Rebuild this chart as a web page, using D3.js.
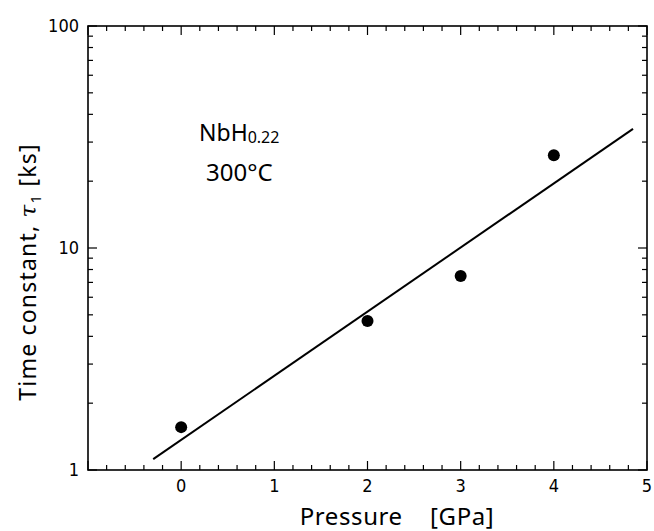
<!DOCTYPE html>
<html><head><meta charset="utf-8">
<script src="https://cdn.jsdelivr.net/npm/d3@7"></script>
<style>body{margin:0;background:#fff}</style>
</head><body>
<svg id="c" width="654" height="531"></svg>
<script>
const pressure = [0, 2, 3, 4];
const tau = [1.56, 4.69, 7.48, 26.2];
const fitX = [-0.3, 4.85];
const fitY = [1.12, 34.4];
const xTicks = [0, 1, 2, 3, 4, 5];
const yTicks = [1, 10, 100];

const svg = d3.select("#c");
const L = 88, R = 647, T = 26, B = 470;
const x = d3.scaleLinear().domain([-1, 5]).range([L, R]);
const y = d3.scaleLog().domain([1, 100]).range([B, T]);
const tickFont = "'Liberation Sans Narrow','DejaVu Sans Condensed',Arial,sans-serif";
const labFont = "'Noto Sans','DejaVu Sans',sans-serif";

const xMinor = d3.range(-1, 5.001, 0.2).map(v => +v.toFixed(1));
const yMinor = [];
for (let d = 1; d < 100; d *= 10) for (let k = 2; k <= 9; k++) yMinor.push(d * k);

const g = svg.append("g").attr("stroke", "#000").attr("fill", "none");
g.append("rect").attr("x", L).attr("y", T).attr("width", R - L).attr("height", B - T).attr("stroke-width", 1.6);

const isMajor = v => Math.abs(v - Math.round(v)) < 1e-6;
xMinor.forEach(v => {
  const len = isMajor(v) ? 9 : 5;
  g.append("line").attr("x1", x(v)).attr("x2", x(v)).attr("y1", B).attr("y2", B - len).attr("stroke-width", 1.2);
  g.append("line").attr("x1", x(v)).attr("x2", x(v)).attr("y1", T).attr("y2", T + len).attr("stroke-width", 1.2);
});
yMinor.forEach(v => {
  g.append("line").attr("x1", L).attr("x2", L + 5).attr("y1", y(v)).attr("y2", y(v)).attr("stroke-width", 1.2);
  g.append("line").attr("x1", R).attr("x2", R - 5).attr("y1", y(v)).attr("y2", y(v)).attr("stroke-width", 1.2);
});
yTicks.forEach(v => {
  g.append("line").attr("x1", L).attr("x2", L + 9).attr("y1", y(v)).attr("y2", y(v)).attr("stroke-width", 1.2);
  g.append("line").attr("x1", R).attr("x2", R - 9).attr("y1", y(v)).attr("y2", y(v)).attr("stroke-width", 1.2);
});

svg.selectAll(".xt").data(xTicks).enter().append("text")
  .attr("x", d => x(d)).attr("y", B + 22).attr("text-anchor", "middle")
  .attr("font-family", tickFont).attr("font-size", 18).text(d => d);
svg.selectAll(".yt").data(yTicks).enter().append("text")
  .attr("x", L - 9).attr("y", d => y(d) + 6).attr("text-anchor", "end")
  .attr("font-family", tickFont).attr("font-size", 18).text(d => d);

svg.append("line").attr("x1", x(fitX[0])).attr("y1", y(fitY[0])).attr("x2", x(fitX[1])).attr("y2", y(fitY[1]))
  .attr("stroke", "#000").attr("stroke-width", 2);

svg.selectAll(".pt").data(pressure).enter().append("circle")
  .attr("cx", d => x(d)).attr("cy", (d, i) => y(tau[i])).attr("r", 6).attr("fill", "#000");

svg.append("text").attr("x", 397).attr("y", 525).attr("text-anchor", "middle")
  .attr("font-family", labFont).attr("font-size", 24).attr("letter-spacing", 0.6).attr("xml:space", "preserve")
  .text("Pressure    [GPa]");
const yl = svg.append("text").attr("transform", "translate(36,272) rotate(-90)").attr("text-anchor", "middle")
  .attr("font-family", labFont).attr("font-size", 23).attr("letter-spacing", 1.2);
yl.append("tspan").text("Time constant, ");
yl.append("tspan").attr("font-family", "'DejaVu Serif',serif").attr("font-style", "italic").text("τ");
yl.append("tspan").attr("font-size", 15).attr("dy", 5).text("1");
yl.append("tspan").attr("dy", -5).text(" [ks]");

const t1 = svg.append("text").attr("x", 199).attr("y", 141).attr("font-family", labFont).attr("font-size", 23);
t1.append("tspan").text("NbH");
t1.append("tspan").attr("font-size", 16).attr("dy", 2).text("0.22");
svg.append("text").attr("x", 206).attr("y", 181).attr("font-family", labFont).attr("font-size", 24).text("300°C");
</script>
</body></html>
